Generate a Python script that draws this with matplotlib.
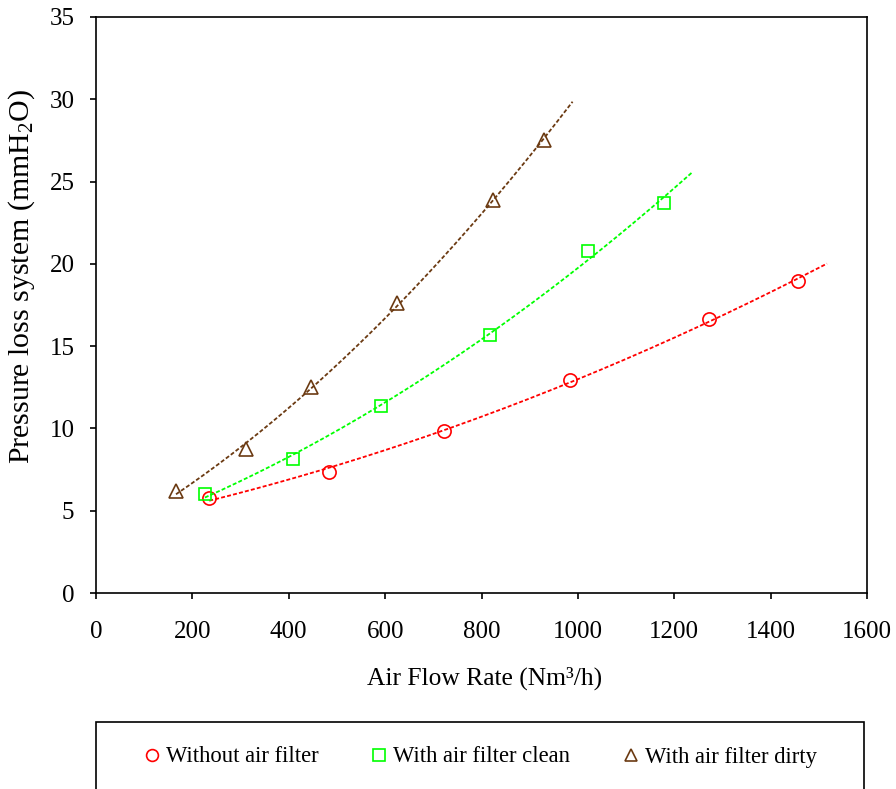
import numpy as np
import matplotlib
matplotlib.use("Agg")
import matplotlib.pyplot as plt
from matplotlib.patches import Rectangle
from matplotlib.lines import Line2D

plt.rcParams['font.family'] = ['Liberation Serif', 'DejaVu Serif']
plt.rcParams['mathtext.fontset'] = 'custom'
plt.rcParams['mathtext.rm'] = 'Liberation Serif'

# Data
x_without = [235, 484, 723, 983, 1272, 1457]
y_without = [5.77, 7.35, 9.84, 12.94, 16.65, 18.96]
x_clean = [226, 409, 592, 817, 1020, 1178]
y_clean = [6.0, 8.14, 11.36, 15.68, 20.78, 23.7]
x_dirty = [166, 312, 447, 625, 823, 929]
y_dirty = [6.2, 8.75, 12.5, 17.6, 23.9, 27.5]

labels = ["Without air filter", "With air filter clean", "With air filter dirty"]
colors = ["#FF0000", "#00FF00", "#6B3A12"]
markers = ["o", "s", "^"]
xticks = list(range(0, 1601, 200))
yticks = list(range(0, 36, 5))

fig = plt.figure(figsize=(8.96, 7.89), dpi=100)
ax = fig.add_axes([96/896, 1-593/789, (867-96)/896, (593-17)/789])

series = [(x_without, y_without), (x_clean, y_clean), (x_dirty, y_dirty)]
forward = 60
for (xs, ys), c, m in zip(series, colors, markers):
    xs = np.array(xs, float); ys = np.array(ys, float)
    coef = np.polyfit(xs, ys, 2)
    xf = np.linspace(xs[0], xs[-1] + forward, 200)
    ax.plot(xf, np.polyval(coef, xf), color=c, lw=1.3, ls=(0, (2.2, 1.2)))
    ax.plot(xs, ys, ls='none', marker=m, ms=9.5 if m != 's' else 9, mfc='none', mec=c, mew=1.2)

ax.set_xlim(0, 1600)
ax.set_ylim(0, 35)
ax.set_xticks(xticks)
ax.set_yticks(yticks)
ax.tick_params(axis='both', direction='out', length=4.5, width=1.2, labelsize=18)
ax.tick_params(axis='x', pad=15.5)
ax.tick_params(axis='y', pad=11)
for s in ax.spines.values():
    s.set_linewidth(1.2)

fig.text(485/896, 1-678/789, "Air Flow Rate (Nm³/h)", ha='center', va='center', fontsize=18.4)
fig.text(22/896, 1-277/789, r"Pressure loss system (mmH$\mathregular{_2}$O)", ha='center', va='center',
         rotation=90, fontsize=21.5)

# Legend box
rect = Rectangle((96/896, -0.05), (864-96)/896, 0.05 + (1-722/789), transform=fig.transFigure,
                 fill=False, edgecolor='black', lw=1.2)
fig.add_artist(rect)
handles = [Line2D([], [], ls='none', marker=m, ms=8.5 if m != 's' else 8, mfc='none', mec=c, mew=1.2)
           for m, c in zip(markers, colors)]
fig.legend(handles, labels, loc='center', bbox_to_anchor=(481/896, 1-757/789), ncol=3, frameon=False,
           fontsize=16.3, handlelength=0.6, handletextpad=0.3, columnspacing=2.4)

fig.savefig("out.png", dpi=100)
